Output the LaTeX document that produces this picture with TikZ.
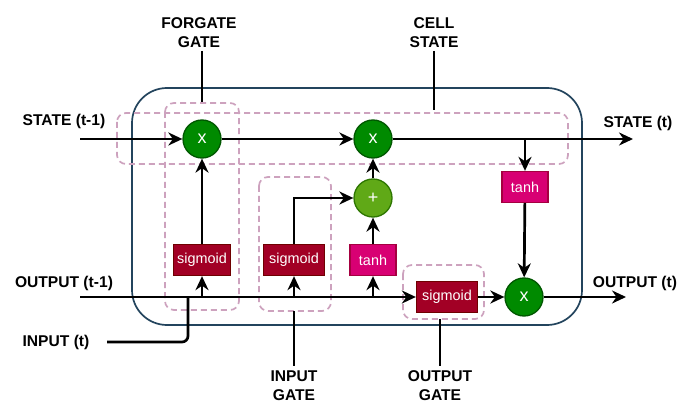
\documentclass[tikz,border=0pt]{standalone}
\usepackage{fontspec}
\setmainfont{Liberation Sans}
\usetikzlibrary{arrows.meta,positioning}
\definecolor{gfill}{HTML}{008A00}
\definecolor{gline}{HTML}{005700}
\definecolor{pfill}{HTML}{60A917}
\definecolor{pline}{HTML}{2D7600}
\definecolor{sfill}{HTML}{A20025}
\definecolor{sline}{HTML}{6F0000}
\definecolor{tfill}{HTML}{D80073}
\definecolor{tline}{HTML}{A50040}
\definecolor{cellline}{HTML}{23445D}
\definecolor{dashc}{HTML}{CDA2BE}
\tikzset{
  lbl/.style={font=\fontsize{15.6}{19}\selectfont\bfseries, align=center, inner sep=0pt},
  opc/.style={circle, draw=gline, fill=gfill, line width=1.3pt, minimum size=38pt, inner sep=0pt, text=white, font=\fontsize{18}{18}\selectfont},
  addc/.style={opc, draw=pline, fill=pfill},
  sigbox/.style={rectangle, draw=sline, fill=sfill, line width=1.3pt, minimum height=31pt, inner sep=0pt, text=white, font=\fontsize{14.4}{14.4}\selectfont},
  tanhbox/.style={sigbox, draw=tline, fill=tfill},
  arr/.style={line width=2.7pt, -{Stealth[length=14pt,width=13pt,inset=4.5pt]}},
  wire/.style={line width=2.7pt},
  gateframe/.style={draw=dashc, line width=1.7pt, dash pattern=on 6pt off 4pt, rounded corners=9pt},
  thin/.style={line width=1.2pt}
}
\begin{document}
\begin{tikzpicture}[x=1pt,y=-1pt]
\useasboundingbox[fill=white] (0,0) rectangle (679,403);
% cell frame
\draw[cellline, line width=1.7pt, rounded corners=35pt] (132,88) rectangle (582,325);
% dashed gate frames
\draw[gateframe] (117,113) rectangle (568,164);
\draw[gateframe] (165,103) rectangle (239,310);
\draw[gateframe] (259,177) rectangle (331,311);
\draw[gateframe] (403,265) rectangle (484,319);
% operation nodes
\node[opc] (fx) at (202,139) {x};
\node[opc] (cx) at (373,139) {x};
\node[addc] (plus) at (373,198) {+};
\node[opc] (ox) at (524,297) {x};
\node[sigbox, minimum width=57pt] (sf) at (202,260) {sigmoid};
\node[sigbox, minimum width=61pt] (si) at (294,260) {sigmoid};
\node[tanhbox, minimum width=46pt] (th1) at (373,260) {tanh};
\node[sigbox, minimum width=61pt] (so) at (447,297) {sigmoid};
\node[tanhbox, minimum width=46pt] (th2) at (525,187) {tanh};
% end points
\coordinate (sin) at (80,139);
\coordinate (sout) at (633,139);
\coordinate (oin) at (80,297);
\coordinate (oout) at (626,297);
\coordinate (iin) at (107,342);
\coordinate (ijoin) at (188,297);
% labels
\node[lbl] (lfg) at (199,33) {FORGATE\\GATE};
\node[lbl] (lcs) at (434,33) {CELL\\STATE};
\node[lbl] (lig) at (294,386) {INPUT\\GATE};
\node[lbl] (log) at (440,386) {OUTPUT\\GATE};
\node[lbl] (lst1) at (64,121) {STATE (t-1)};
\node[lbl] (lst) at (638,123) {STATE (t)};
\node[lbl] (lot1) at (64,283) {OUTPUT (t-1)};
\node[lbl] (lot) at (635,283) {OUTPUT (t)};
\node[lbl] (lin) at (56,342) {INPUT (t)};
\coordinate (fgend) at (202,102);
\coordinate (csend) at (434,110);
\coordinate (igend) at (294,311);
\coordinate (ogend) at (440,319);
\draw[thin] (202,51) -- (fgend);
\draw[thin] (434,51) -- (csend);
\draw[thin] (igend) -- (294,366);
\draw[thin] (ogend) -- (440,366);
% state line
\draw[arr] (sin) -- (fx);
\draw[arr] (fx) -- (cx);
\draw[arr] (cx) -- (sout);
\draw[arr] (th2 |- cx) -- (th2);
\draw[arr] (th2) -- (ox);
% output line
\draw[arr] (oin) -- (so);
\draw[wire, rounded corners=6pt] (iin) -| (ijoin);
\draw[arr] (sf |- oin) -- (sf);
\draw[arr] (si |- oin) -- (si);
\draw[arr] (th1 |- oin) -- (th1);
\draw[arr] (so) -- (ox);
\draw[arr] (ox) -- (oout);
% gates to ops
\draw[arr] (sf) -- (fx);
\draw[arr] (si.north) |- (plus);
\draw[arr] (th1) -- (plus);
\draw[arr] (plus) -- (cx);
\end{tikzpicture}
\end{document}
